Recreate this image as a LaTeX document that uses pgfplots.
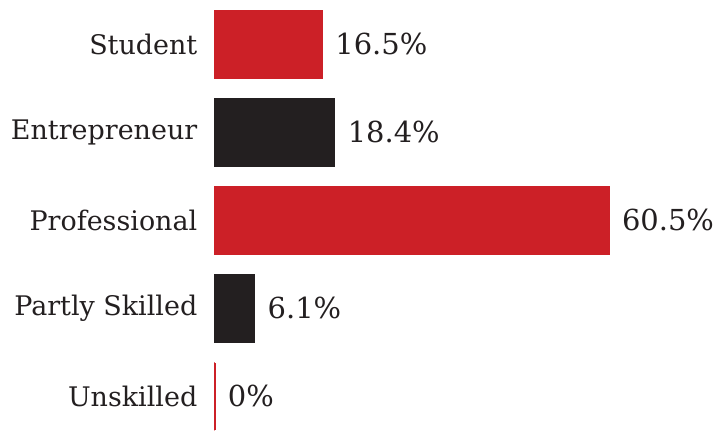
\documentclass[border=0pt]{standalone}
\usepackage{pgfplots}
\pgfplotsset{compat=1.18}
\usepackage{fontspec}
\setmainfont{DejaVu Serif}
\definecolor{barred}{RGB}{204,32,39}
\definecolor{bardark}{RGB}{35,31,32}
\definecolor{txt}{RGB}{35,31,32}
\begin{document}
\begin{tikzpicture}
\begin{axis}[
scale only axis,
width=496pt, height=431pt,
clip=false,
xbar, bar shift=0pt,
bar width=68pt,
xmin=0, xmax=76.0,
ymin=-0.384, ymax=4.5,
axis line style={draw=none},
tick style={draw=none},
xtick=\empty,
ytick={0,1,2,3,4},
yticklabels={Unskilled,Partly Skilled,Professional,Entrepreneur,Student},
y tick label style={inner sep=0pt, xshift=-13pt},
tick label style={font=\fontsize{27}{30}\selectfont, text=txt},
/pgf/number format/assume math mode=true,
nodes near coords={\pgfmathprintnumber{\pgfplotspointmeta}\%},
nodes near coords style={font=\fontsize{29}{30}\selectfont, text=txt, inner sep=0pt, xshift=13pt},
]
\addplot[fill=barred, draw=barred, line width=0.5pt] coordinates {
(16.5,4)
(60.5,2)
(0,0)
};
\addplot[fill=bardark, draw=bardark, line width=0.5pt] coordinates {
(18.4,3)
(6.1,1)
};
% the zero bar, drawn as a thin red stroke
\addplot[xbar=0pt, draw=barred, line width=2pt, sharp plot, forget plot, nodes near coords={}] coordinates {
(0,-0.384)
(0,0.384)
};
\end{axis}
% keep the left margin of the reference
\path (current bounding box.west) ++(-11pt,0);
\end{tikzpicture}
\end{document}
